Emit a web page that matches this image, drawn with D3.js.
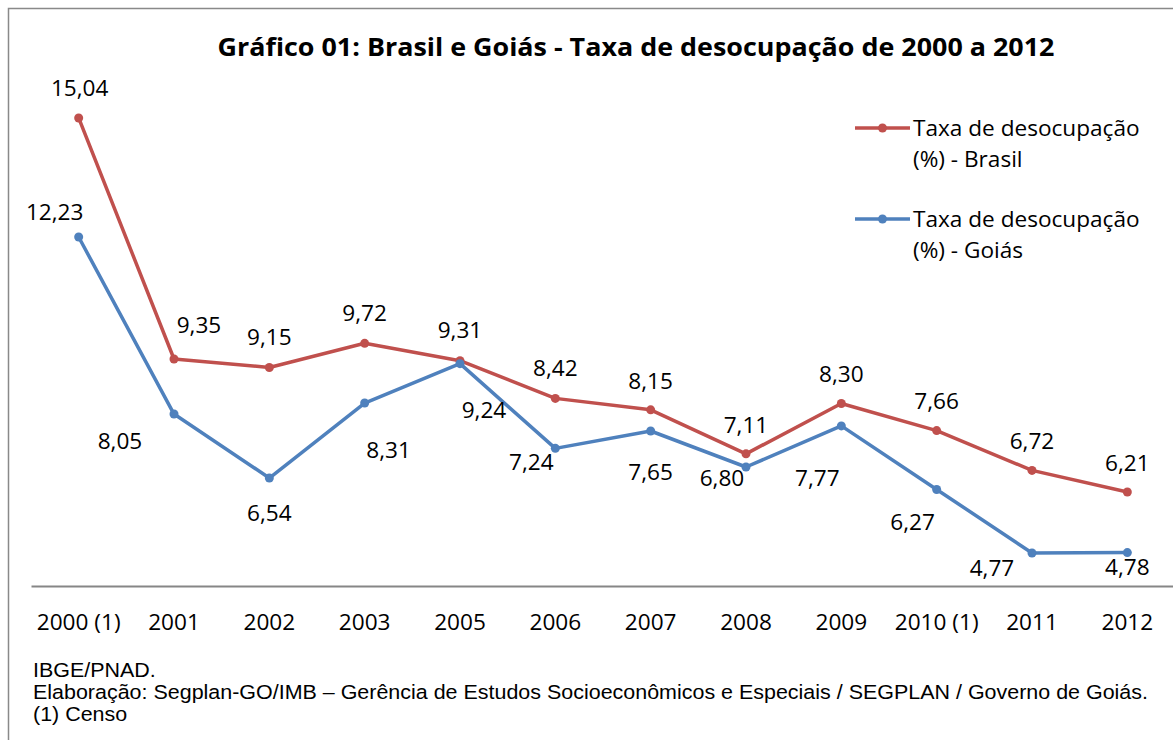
<!DOCTYPE html>
<html>
<head>
<meta charset="utf-8">
<script src="https://cdn.jsdelivr.net/npm/d3@7"></script>
<style>
  body { margin: 0; background: #fff; }
  svg { display: block; }
</style>
</head>
<body>
<div id="chart"></div>
<script>
// Chart data
var years = ["2000 (1)", "2001", "2002", "2003", "2005", "2006", "2007", "2008", "2009", "2010 (1)", "2011", "2012"];
var brasil = [15.04, 9.35, 9.15, 9.72, 9.31, 8.42, 8.15, 7.11, 8.30, 7.66, 6.72, 6.21];
var goias = [12.23, 8.05, 6.54, 8.31, 9.24, 7.24, 7.65, 6.80, 7.77, 6.27, 4.77, 4.78];
var seriesNames = ["Taxa de desocupação\n(%) - Brasil", "Taxa de desocupação\n(%) - Goiás"];
var footnotes = ["IBGE/PNAD.",
  "Elaboração: Segplan-GO/IMB – Gerência de Estudos Socioeconômicos e Especiais / SEGPLAN / Governo de Goiás.",
  "(1) Censo"];

// label offsets (px from the point), hand-placed like in the original
var brasilLabelOff = [[1, -30], [25, -34], [0, -30], [0, -30], [0, -31], [0, -30], [0, -29], [0, -29], [0, -29], [0, -29], [0, -29], [0, -29]];
var goiasLabelOff = [[-24, -25], [-54, 27], [0, 35], [24, 47], [24, 46], [-24, 14], [0, 41], [-24, 11], [-24, 52], [-24, 33], [-40, 15], [0, 15]];

var w = 1173, h = 740;
var red = "#C0504D", blue = "#4F81BD";
var labelFont = "'Open Sans', Lato, sans-serif";
var labelSize = 22.6;

var svg = d3.select("#chart").append("svg")
    .attr("width", w)
    .attr("height", h);

// outer frame (only left and top edges visible)
svg.append("rect")
    .attr("x", 8.5).attr("y", 8.5)
    .attr("width", 1300).attr("height", 900)
    .attr("fill", "none")
    .attr("stroke", "#898989")
    .attr("stroke-width", 1.5);

// title
svg.append("text")
    .attr("x", 636).attr("y", 56)
    .attr("text-anchor", "middle")
    .attr("font-family", labelFont)
    .attr("font-weight", "bold")
    .attr("font-size", 25)
    .attr("textLength", 837)
    .attr("lengthAdjust", "spacingAndGlyphs")
    .text("Gráfico 01: Brasil e Goiás - Taxa de desocupação de 2000 a 2012");

var xScale = d3.scaleBand().domain(years).range([31, 1175]);
var yScale = d3.scaleLinear().domain([4, 16]).range([585.6, 77.3]);
var cx = d => xScale(d) + xScale.bandwidth() / 2;

// x axis
var xAxis = svg.append("g")
    .attr("transform", "translate(0,586)")
    .call(d3.axisBottom(xScale).tickSize(0).tickPadding(28));
xAxis.select(".domain").attr("stroke", "#868686").attr("stroke-width", 2);
xAxis.selectAll("text")
    .attr("font-family", labelFont)
    .attr("font-size", labelSize)
    .attr("fill", "#000");

var line = d3.line()
    .x((d, i) => cx(years[i]))
    .y(d => yScale(d));

function drawSeries(values, color, offsets) {
    svg.append("path")
        .datum(values)
        .attr("d", line)
        .attr("fill", "none")
        .attr("stroke", color)
        .attr("stroke-width", 3.5)
        .attr("stroke-linejoin", "round");
    svg.selectAll(null)
        .data(values)
        .enter().append("circle")
        .attr("cx", (d, i) => cx(years[i]))
        .attr("cy", d => yScale(d))
        .attr("r", 4.5)
        .attr("fill", color);
    svg.selectAll(null)
        .data(values)
        .enter().append("text")
        .attr("x", (d, i) => cx(years[i]) + offsets[i][0])
        .attr("y", (d, i) => yScale(d) + offsets[i][1])
        .attr("dy", "0.35em")
        .attr("text-anchor", "middle")
        .attr("font-family", labelFont)
        .attr("font-size", labelSize)
        .text(d => d.toFixed(2).replace(".", ","));
}

drawSeries(brasil, red, brasilLabelOff);
drawSeries(goias, blue, goiasLabelOff);

// legend
var legend = svg.append("g");
[red, blue].forEach(function (color, i) {
    var g = legend.append("g").attr("transform", "translate(855," + (128 + i * 91) + ")");
    g.append("line").attr("x1", 0).attr("x2", 55).attr("stroke", color).attr("stroke-width", 3.5);
    g.append("circle").attr("cx", 27.5).attr("r", 4.5).attr("fill", color);
    var t = g.append("text")
        .attr("font-family", labelFont)
        .attr("font-size", labelSize);
    seriesNames[i].split("\n").forEach(function (s, j) {
        t.append("tspan").attr("x", 58).attr("y", j * 31).attr("dy", "0.35em").text(s);
    });
});

// footnotes - the source text is a bit wider than plain Arial, so stretch it horizontally
var foot = svg.append("g");
foot.selectAll(".foot")
    .data(footnotes)
    .enter().append("text")
    .attr("class", "foot")
    .attr("x", 0)
    .attr("y", (d, i) => 677 + i * 22)
    .attr("font-family", "'Liberation Sans', Arial, sans-serif")
    .attr("font-size", 19.5)
    .text(d => d);
var longest = foot.selectAll(".foot").nodes()[1].getComputedTextLength();
foot.attr("transform", "translate(33,0) scale(" + (1115 / longest) + ",1)");
</script>
</body>
</html>
